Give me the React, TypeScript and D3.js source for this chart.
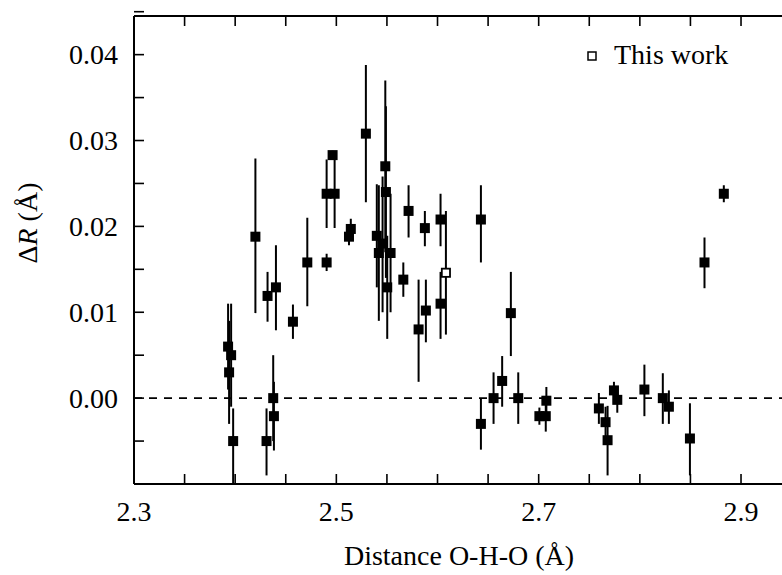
import React from "react";
import * as d3 from "d3";

const distances = [
  2.393, 2.396, 2.394, 2.398, 2.420, 2.432, 2.431, 2.4376, 2.4383, 2.4403,
  2.4571, 2.4713, 2.4904, 2.4904, 2.4983, 2.4963, 2.5143, 2.5125, 2.5292, 2.5484,
  2.549, 2.540, 2.5457, 2.542, 2.5536, 2.5503, 2.5662, 2.5714, 2.5813, 2.5875,
  2.5885, 2.603, 2.603, 2.6429, 2.6429, 2.6554, 2.6639, 2.6725, 2.6798, 2.7007,
  2.707, 2.7076, 2.7595, 2.7661, 2.7681, 2.7744, 2.7777, 2.8045, 2.8227, 2.8287,
  2.8495, 2.8639, 2.883,
];
const deltaR = [
  0.006, 0.005, 0.003, -0.005, 0.0188, 0.0119, -0.005, 0.0, -0.0021, 0.0129,
  0.0089, 0.0158, 0.0158, 0.0238, 0.0238, 0.0283, 0.0197, 0.0188, 0.0308, 0.027,
  0.024, 0.0189, 0.018, 0.0169, 0.0169, 0.0129, 0.0138, 0.0218, 0.008, 0.0198,
  0.0102, 0.0208, 0.011, 0.0208, -0.003, 0.0, 0.002, 0.0099, 0.0, -0.0021,
  -0.0021, -0.0003, -0.0012, -0.0028, -0.0049, 0.0009, -0.0002, 0.001, 0.0, -0.001,
  -0.0047, 0.0158, 0.0238,
];
const errUp = [
  0.005, 0.006, 0.006, 0.0038, 0.0091, 0.0028, 0.0038, 0.005, 0.004, 0.0049,
  0.002, 0.0052, 0.001, 0.004, 0.004, 0.0005, 0.0012, 0.001, 0.008, 0.01,
  0.01, 0.006, 0.0078, 0.0079, 0.0069, 0.006, 0.002, 0.003, 0.0058, 0.002,
  0.0036, 0.003, 0.0037, 0.004, 0.003, 0.003, 0.0029, 0.0048, 0.003, 0.001,
  0.0018, 0.0016, 0.0018, 0.0018, 0.004, 0.001, 0.0015, 0.0029, 0.0029, 0.0019,
  0.0041, 0.0029, 0.001,
];
const errDown = [
  0.005, 0.006, 0.006, 0.0065, 0.0089, 0.003, 0.004, 0.005, 0.004, 0.005,
  0.002, 0.0051, 0.001, 0.004, 0.004, 0.0005, 0.001, 0.001, 0.008, 0.01,
  0.01, 0.006, 0.008, 0.0079, 0.0069, 0.006, 0.002, 0.0031, 0.0061, 0.0021,
  0.0037, 0.0031, 0.0041, 0.005, 0.003, 0.003, 0.003, 0.005, 0.003, 0.001,
  0.0018, 0.0016, 0.0018, 0.0018, 0.0041, 0.0015, 0.0015, 0.0031, 0.003, 0.002,
  0.0043, 0.003, 0.001,
];

const thisWorkX = [2.6083];
const thisWorkY = [0.0146];
const thisWorkErr = [0.0072];

const xTickValues = d3.range(0, 13).map((i) => +(2.3 + i * 0.05).toFixed(2));
const xLabelValues = [2.3, 2.5, 2.7, 2.9];
const yTickValues = d3.range(-1, 10).map((i) => +(i * 0.005).toFixed(3));
const yLabelValues = [0.0, 0.01, 0.02, 0.03, 0.04];

const legendLabel = "This work";
const xTitle = "Distance O-H-O (Å)";

const FONT = "Liberation Serif, Times New Roman, DejaVu Serif, serif";

export default function App() {
  const W = 782;
  const H = 575;
  const left = 134;
  const top = 16;
  const bottom = 484;
  const x = d3.scaleLinear().domain([2.3, 2.95]).range([left, left + 0.65 * 1011.7]);
  const y = d3.scaleLinear().domain([-0.01, 0.0445]).range([bottom, top]);
  const right = x(2.95);
  const fs = 28;
  const tickLen = 10;
  const ms = 10;
  const ts: React.CSSProperties = { fontFamily: FONT, fontSize: fs };

  return (
    <svg
      width={W}
      height={H}
      style={{ position: "absolute", left: 0, top: 0, background: "#fff", fontFamily: FONT }}
    >
      <defs>
        <clipPath id="plotClip">
          <rect x={left} y={top} width={right - left} height={bottom - top} />
        </clipPath>
      </defs>
      <rect x={0} y={0} width={W} height={H} fill="#fff" />

      <line
        x1={left}
        x2={right}
        y1={y(0)}
        y2={y(0)}
        stroke="#000"
        strokeWidth={1.6}
        strokeDasharray="8,7"
      />

      <g clipPath="url(#plotClip)">
        {distances.map((d, i) => (
          <line
            key={"e" + i}
            x1={x(d)}
            x2={x(d)}
            y1={y(deltaR[i] + errUp[i])}
            y2={y(deltaR[i] - errDown[i])}
            stroke="#000"
            strokeWidth={2}
          />
        ))}
        {thisWorkX.map((d, i) => (
          <line
            key={"te" + i}
            x1={x(d)}
            x2={x(d)}
            y1={y(thisWorkY[i] + thisWorkErr[i])}
            y2={y(thisWorkY[i] - thisWorkErr[i])}
            stroke="#000"
            strokeWidth={2}
          />
        ))}
        {distances.map((d, i) => (
          <rect
            key={"m" + i}
            x={x(d) - ms / 2}
            y={y(deltaR[i]) - ms / 2}
            width={ms}
            height={ms}
            fill="#000"
          />
        ))}
        {thisWorkX.map((d, i) => (
          <rect
            key={"tm" + i}
            x={x(d) - ms / 2 + 0.9}
            y={y(thisWorkY[i]) - ms / 2 + 0.9}
            width={ms - 1.8}
            height={ms - 1.8}
            fill="#fff"
            stroke="#000"
            strokeWidth={1.8}
          />
        ))}
      </g>

      <line x1={left} x2={left} y1={top} y2={bottom} stroke="#000" strokeWidth={2} />
      <line x1={left} x2={right} y1={bottom} y2={bottom} stroke="#000" strokeWidth={2} />
      <line x1={left} x2={right} y1={top} y2={top} stroke="#000" strokeWidth={2} />

      {xTickValues.map((t) => (
        <g key={"xt" + t}>
          <line x1={x(t)} x2={x(t)} y1={bottom} y2={bottom - tickLen} stroke="#000" strokeWidth={1.6} />
          <line x1={x(t)} x2={x(t)} y1={top} y2={top + tickLen} stroke="#000" strokeWidth={1.6} />
        </g>
      ))}
      {xLabelValues.map((t) => (
        <text key={"xl" + t} x={x(t)} y={521} textAnchor="middle" style={ts} fill="#000">
          {t.toFixed(1)}
        </text>
      ))}

      {yTickValues.map((t) => (
        <line
          key={"yt" + t}
          x1={left}
          x2={left + tickLen}
          y1={y(t)}
          y2={y(t)}
          stroke="#000"
          strokeWidth={1.6}
        />
      ))}
      {yLabelValues.map((t) => (
        <text
          key={"yl" + t}
          x={118}
          y={y(t)}
          dy="0.35em"
          textAnchor="end"
          style={ts}
          fill="#000"
        >
          {t.toFixed(2)}
        </text>
      ))}

      <text x={459} y={565} textAnchor="middle" style={ts} fill="#000">
        {xTitle}
      </text>
      <text
        transform={`translate(37,223) rotate(-90)`}
        textAnchor="middle"
        style={ts}
        fill="#000"
      >
        Δ<tspan fontStyle="italic">R</tspan> (Å)
      </text>

      <rect x={588} y={52} width={8} height={8} fill="#fff" stroke="#000" strokeWidth={1.5} />
      <text x={614} y={64} style={ts} fill="#000">
        {legendLabel}
      </text>
    </svg>
  );
}
